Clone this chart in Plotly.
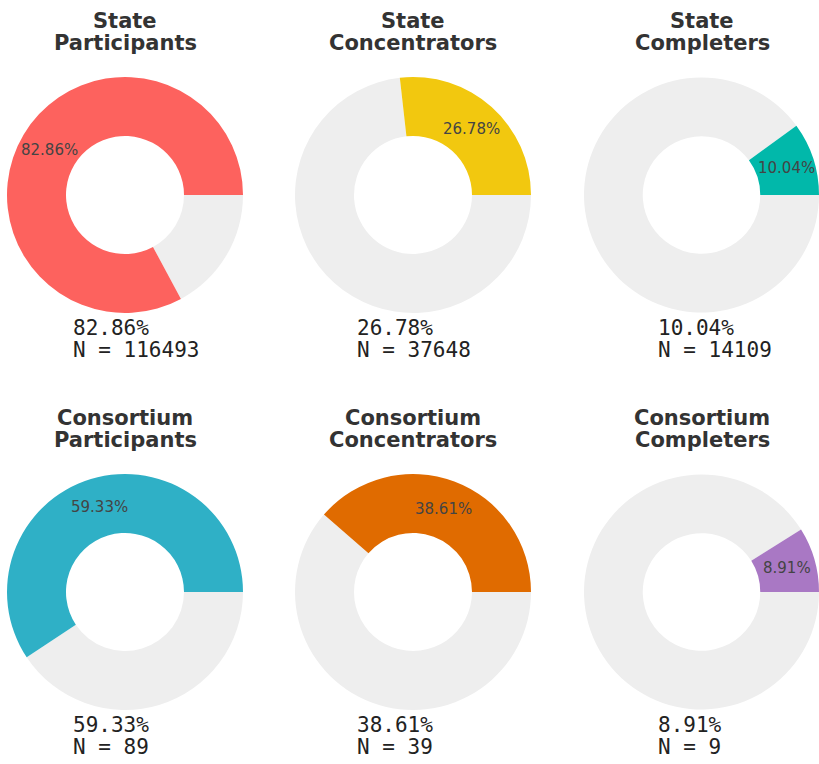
import math
import plotly.graph_objects as go

titles = ["State<br>Participants", "State<br>Concentrators", "State<br>Completers",
          "Consortium<br>Participants", "Consortium<br>Concentrators", "Consortium<br>Completers"]
percents = [82.86, 26.78, 10.04, 59.33, 38.61, 8.91]
counts = [116493, 37648, 14109, 89, 39, 9]
colors = ["#FD625E", "#F2C80F", "#01B8AA", "#2FB0C6", "#E06B00", "#A978C4"]
rest_color = "#EEEEEE"

W, H = 819, 764
col_centers = [125, 413, 702]
row_centers = [195, 592]
radius = 118
hole = 0.5
text_left = [71, 355, 656]

fig = go.Figure()
for i, (t, p, n, c) in enumerate(zip(titles, percents, counts, colors)):
    r, k = divmod(i, 3)
    cx, cy = col_centers[k], row_centers[r]
    x0, x1 = max(0, cx - radius) / W, min(W, cx + radius) / W
    y0, y1 = 1 - (cy + radius) / H, 1 - (cy - radius) / H
    fig.add_trace(go.Pie(
        values=[100 - p, p],
        labels=["rest", "share"],
        textinfo="none",
        marker=dict(colors=[rest_color, c], line=dict(width=0)),
        hole=hole,
        sort=False,
        direction="counterclockwise",
        rotation=90,
        domain=dict(x=[x0, x1], y=[y0, y1]),
        hoverinfo="skip",
        showlegend=False,
    ))
    # slice label at the middle of the coloured arc
    theta = math.radians(p / 100 * 360 / 2)
    rr = radius * (1 + hole) / 2
    fig.add_annotation(
        x=(cx + rr * math.cos(theta)) / W, y=1 - (cy - rr * math.sin(theta)) / H,
        xref="paper", yref="paper", text=f"{p:.2f}%", showarrow=False,
        xanchor="center", yanchor="middle",
        font=dict(family="DejaVu Sans", size=15, color="#444444"),
    )
    # title (two lines, tight spacing)
    for j, line in enumerate(t.split("<br>")):
        fig.add_annotation(
            x=cx / W, y=1 - (cy - 174 + 21.5 * j) / H, xref="paper", yref="paper",
            text=f"<b>{line}</b>", showarrow=False, xanchor="center", yanchor="middle",
            font=dict(family="DejaVu Sans", size=21, color="#333333"),
        )
    # bottom label (two lines, left aligned)
    for j, line in enumerate([f"{p:.2f}%", f"N = {n}"]):
        fig.add_annotation(
            x=text_left[k] / W, y=1 - (cy + 133 + 21.5 * j) / H, xref="paper", yref="paper",
            text=line, showarrow=False, xanchor="left", yanchor="middle",
            font=dict(family="DejaVu Sans Mono", size=21, color="#222222"),
        )

fig.update_layout(
    width=W, height=H,
    margin=dict(l=0, r=0, t=0, b=0),
    paper_bgcolor="white", plot_bgcolor="white",
)
fig.write_html("out.html", config={"displayModeBar": False},
               post_script="document.body.style.margin='0';")
